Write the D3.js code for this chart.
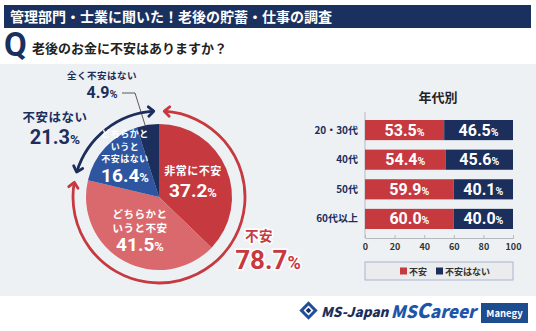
<!DOCTYPE html>
<html><head><meta charset="utf-8">
<script src="https://cdn.jsdelivr.net/npm/d3@7"></script>
<style>
html,body{margin:0;padding:0;background:#fff;}
svg{display:block;}
text{font-family:"Noto Sans CJK JP","Noto Sans",sans-serif;}
.num{font-family:Roboto,"Noto Sans",sans-serif;font-weight:700;}
</style></head>
<body>
<script>
// ---- data ----
const titleText = "管理部門・士業に聞いた！老後の貯蓄・仕事の調査";
const questionText = "老後のお金に不安はありますか？";
const pieLabels = ["非常に不安", "どちらかというと不安", "どちらかというと不安はない", "全く不安はない"];
const pieValues = [37.2, 41.5, 16.4, 4.9];
const groupLabels = ["不安", "不安はない"];
const groupValues = [78.7, 21.3];
const ageTitle = "年代別";
const ageCats = ["20・30代", "40代", "50代", "60代以上"];
const anxiousValues = [53.5, 54.4, 59.9, 60.0];
const notAnxiousValues = [46.5, 45.6, 40.1, 40.0];
const xTicks = [0, 20, 40, 60, 80, 100];

const W = 536, H = 331;
const RED = "#c6393f", LRED = "#d9696d", BLUE = "#2e55a0", NAVY = "#1b2e5c";

const svg = d3.select("body").append("svg").attr("width", W).attr("height", H);

// background panel
svg.append("rect").attr("x", 0).attr("y", 64).attr("width", W).attr("height", 232).attr("fill", "#eef1f4");

// title bar
svg.append("rect").attr("x", 4).attr("y", 5).attr("width", 527).attr("height", 23).attr("fill", "#1a3160");
svg.append("text").attr("x", 10).attr("y", 22).attr("fill", "#fff").attr("font-size", 14).attr("font-weight", 700).text(titleText);

// Q
svg.append("text").attr("class", "num").attr("x", 4).attr("y", 56).attr("fill", "#1a3160").attr("font-size", 33).attr("font-weight", 700).text("Q");
svg.append("text").attr("x", 32).attr("y", 53).attr("fill", "#222").attr("font-size", 13).attr("font-weight", 700).text(questionText);

// ---- pie ----
const cx = 159, cy = 197, R = 73, RR = 86;
const pg = svg.append("g").attr("transform", `translate(${cx},${cy})`);
const pie = d3.pie().sort(null).value(d => d)(pieValues);
const arc = d3.arc().innerRadius(0).outerRadius(R);
const pieColors = [RED, LRED, BLUE, NAVY];
pg.selectAll("path.slice").data(pie).enter().append("path").attr("class", "slice")
  .attr("d", arc).attr("fill", (d, i) => pieColors[i]);

// outer ring arcs with arrows
const gap = 3.5 * Math.PI / 180;
let acc = 0;
const ringColors = [RED, NAVY];
groupValues.forEach((v, i) => {
  const a0 = acc / 100 * 2 * Math.PI + gap;
  const a1 = (acc + v) / 100 * 2 * Math.PI - gap;
  acc += v;
  const p = d3.path();
  p.arc(0, 0, RR, a0 - Math.PI / 2, a1 - Math.PI / 2, false);
  pg.append("path").attr("d", p.toString()).attr("fill", "none").attr("stroke", ringColors[i]).attr("stroke-width", 2.8);
  [[a0, -1], [a1, 1]].forEach(([a, dir]) => {
    const tx = RR * Math.sin(a), ty = -RR * Math.cos(a);
    const dx = Math.cos(a) * dir, dy = Math.sin(a) * dir;
    const L = 7, ang = 42 * Math.PI / 180;
    const back = (s) => {
      const c = Math.cos(s * ang), sn = Math.sin(s * ang);
      const bx = -dx, by = -dy;
      return [tx + L * (bx * c - by * sn), ty + L * (bx * sn + by * c)];
    };
    const b1 = back(1), b2 = back(-1);
    pg.append("path").attr("d", `M${b1[0]},${b1[1]}L${tx},${ty}L${b2[0]},${b2[1]}`)
      .attr("fill", "none").attr("stroke", ringColors[i]).attr("stroke-width", 2.8)
      .attr("stroke-linecap", "round").attr("stroke-linejoin", "round");
  });
});

// label block: stacked lines + percentage in ONE text element
function block(g, x, y, arr, size, lh, val, numSize, numGap, color, pctSize, halo) {
  const t = g.append("text").attr("x", x).attr("y", y).attr("text-anchor", "middle").attr("fill", color)
    .attr("font-weight", 700);
  if (halo) t.attr("stroke", "#fff").attr("stroke-width", 3).attr("paint-order", "stroke");
  arr.forEach((s, i) => t.append("tspan").attr("x", x).attr("dy", i === 0 ? 0 : lh)
    .attr("font-size", size).attr("letter-spacing", 0.5).text(s));
  t.append("tspan").attr("x", x).attr("dy", numGap).attr("font-size", numSize)
    .attr("font-family", "Roboto, sans-serif").text(val.toFixed(1));
  t.append("tspan").attr("font-size", pctSize || numSize * 0.68).attr("font-family", "Roboto, sans-serif").text("%");
  return t;
}
function pctText(g, x, y, val, size, color, anchor, pctSize) {
  const t = g.append("text").attr("class", "num").attr("x", x).attr("y", y).attr("fill", color)
    .attr("font-size", size).attr("text-anchor", anchor || "middle");
  t.append("tspan").text(val.toFixed(1));
  t.append("tspan").attr("font-size", pctSize || size * 0.68).text("%");
  return t;
}

// slice labels
block(svg, 193, 175, [pieLabels[0]], 11, 12, pieValues[0], 19, 22, "#fff");
block(svg, 140, 218, ["どちらかと", "いうと不安"], 10.5, 13.5, pieValues[1], 19, 19.5, "#fff");
block(svg, 125, 137, ["どちらかと", "いうと", "不安はない"], 9, 12.5, pieValues[2], 19, 20, "#fff");

// 全く不安はない
block(svg, 102, 79, [pieLabels[3]], 9.5, 10, pieValues[3], 16, 19, NAVY);
svg.append("path").attr("d", "M122,93L135,93L146,128").attr("fill", "none").attr("stroke", "#333").attr("stroke-width", 0.8);

// group labels
block(svg, 55, 122, [groupLabels[1]], 12.5, 12, groupValues[1], 20, 22, NAVY);
const gt = block(svg, 259, 241, [groupLabels[0]], 13.5, 12, groupValues[0], 26, 28, RED, 18, true);
gt.selectAll("tspan").filter((d, i) => i === 1).attr("x", 268);

// ---- bar chart ----
svg.append("text").attr("x", 438).attr("y", 102).attr("text-anchor", "middle").attr("fill", "#222")
  .attr("font-size", 13).attr("font-weight", 700).text(ageTitle);

const x = d3.scaleLinear().domain([0, 100]).range([365, 513]);
const y = d3.scaleBand().domain(ageCats).range([112, 237]).paddingInner(0.32).paddingOuter(0.27);

const axisG = svg.append("g").attr("transform", "translate(0,238)")
  .call(d3.axisBottom(x).tickValues(xTicks).tickSize(-3).tickPadding(6));
axisG.select(".domain").attr("stroke", "#b5b9bf");
axisG.selectAll(".tick line").attr("stroke", "#b5b9bf");
axisG.selectAll(".tick text").attr("fill", "#333").attr("font-size", 9).attr("font-weight", 700)
  .attr("font-family", "Roboto, sans-serif");
svg.append("line").attr("x1", 365).attr("x2", 365).attr("y1", 112).attr("y2", 238).attr("stroke", "#b5b9bf");

const rows = svg.append("g").selectAll("g").data(ageCats).enter().append("g");
rows.append("rect").attr("x", x(0)).attr("y", d => y(d)).attr("height", y.bandwidth())
  .attr("width", (d, i) => x(anxiousValues[i]) - x(0)).attr("fill", RED);
rows.append("rect").attr("x", (d, i) => x(anxiousValues[i])).attr("y", d => y(d)).attr("height", y.bandwidth())
  .attr("width", (d, i) => x(anxiousValues[i] + notAnxiousValues[i]) - x(anxiousValues[i])).attr("fill", NAVY);
rows.each(function (d, i) {
  const g = d3.select(this);
  const yy = y(d) + y.bandwidth() / 2 + 5.5;
  pctText(g, (x(0) + x(anxiousValues[i])) / 2, yy, anxiousValues[i], 16, "#fff", "middle", 10.5);
  pctText(g, (x(anxiousValues[i]) + x(100)) / 2, yy, notAnxiousValues[i], 16, "#fff", "middle", 10.5);
  g.append("text").attr("x", 358).attr("y", y(d) + y.bandwidth() / 2 + 3.5).attr("text-anchor", "end")
    .attr("fill", NAVY).attr("font-size", 10).attr("font-weight", 700).text(d);
});

// legend
svg.append("rect").attr("x", 365).attr("y", 262).attr("width", 148).attr("height", 18)
  .attr("fill", "#ebecee").attr("stroke", "#a9b4d2").attr("stroke-width", 1);
const legendColors = [RED, NAVY];
const legendX = [400, 436];
groupLabels.forEach((lab, i) => {
  svg.append("rect").attr("x", legendX[i]).attr("y", 267.5).attr("width", 7).attr("height", 7).attr("fill", legendColors[i]);
  svg.append("text").attr("x", legendX[i] + 9).attr("y", 274.5).attr("fill", "#333").attr("font-size", 9)
    .attr("font-weight", 700).text(lab);
});

// ---- footer logos ----
const lg = svg.append("g");
lg.append("rect").attr("x", 302).attr("y", 304).attr("width", 13).attr("height", 13)
  .attr("transform", "rotate(45 308.5 310.5)").attr("fill", "#1f4f9c");
lg.append("rect").attr("x", 305).attr("y", 307).attr("width", 7).attr("height", 7)
  .attr("transform", "rotate(45 308.5 310.5)").attr("fill", "#fff");
lg.append("rect").attr("x", 306.5).attr("y", 308.5).attr("width", 4).attr("height", 4)
  .attr("transform", "rotate(45 308.5 310.5)").attr("fill", "#1b2e5c");
lg.append("text").attr("x", 321).attr("y", 317).attr("fill", "#1b2e5c").attr("font-family", "Roboto, sans-serif")
  .attr("font-size", 13.5).attr("font-weight", 900).attr("font-style", "italic").text("MS-Japan");
const mc = lg.append("text").attr("x", 476).attr("y", 318).attr("text-anchor", "end").attr("fill", "#1f55a8")
  .attr("font-family", "Roboto, sans-serif").attr("font-weight", 900).attr("font-style", "italic");
mc.append("tspan").attr("font-size", 17).text("MS");
mc.append("tspan").attr("font-size", 20).text("C");
mc.append("tspan").attr("font-size", 17).text("areer");
lg.append("rect").attr("x", 481).attr("y", 303).attr("width", 47).attr("height", 20).attr("fill", "#1d4c8f");
lg.append("text").attr("x", 504.5).attr("y", 316.5).attr("text-anchor", "middle").attr("fill", "#fff")
  .attr("font-family", "Roboto, sans-serif").attr("font-size", 9.5).attr("font-weight", 700).text("Manegy");
</script>
</body></html>
